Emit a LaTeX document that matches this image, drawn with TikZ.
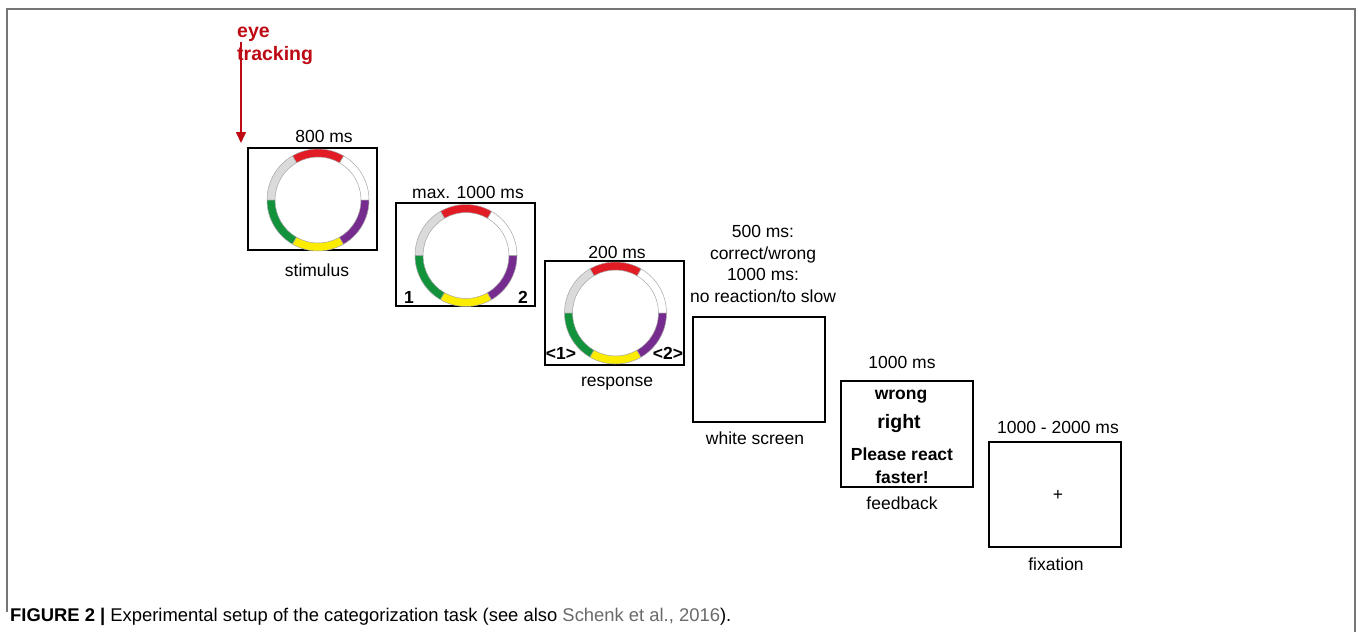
\documentclass[tikz,border=0pt]{standalone}
\usepackage{fontspec}
\setmainfont{Liberation Sans}
\usepackage{xcolor}
\usetikzlibrary{arrows.meta}

\definecolor{ringred}{RGB}{226,28,36}
\definecolor{ringgreen}{RGB}{18,146,58}
\definecolor{ringyellow}{RGB}{252,236,0}
\definecolor{ringpurple}{RGB}{118,44,142}
\definecolor{ringgray}{RGB}{218,218,218}
\definecolor{etred}{RGB}{190,10,20}
\definecolor{framegray}{RGB}{118,118,118}
\definecolor{citegray}{RGB}{105,105,105}

\begin{document}
\begin{tikzpicture}[
  x=1pt, y=-1pt,
  screen/.style 2 args={draw, line width=1.3pt, minimum width=#1, minimum height=#2, inner sep=0pt},
  lbl/.style={font=\fontsize{17.5}{21.7}\selectfont, align=center, inner sep=0pt},
  bold/.style={font=\fontsize{17.5}{23}\selectfont\bfseries, align=center, inner sep=0pt},
  ring/.pic={
    \foreach \a/\c in {0/white,60/ringred,120/ringgray,180/ringgreen,240/ringyellow,300/ringpurple}
      \filldraw[fill=\c, draw=gray!70, line width=0.5pt]
        (\a:51pt) arc[start angle=\a, delta angle=60, radius=51pt]
        -- ({\a+60}:43pt) arc[start angle=\a+60, delta angle=-60, radius=43pt] -- cycle;
  }
]
  \useasboundingbox (0,0) rectangle (1358,632);

  % Frame
  \draw[framegray, line width=2pt] (7,612) -- (7,8.5) -- (1355,8.5) -- (1355,632);

  % Screens
  \node[screen={129pt}{102pt}] (stim) at (312.5,199) {};
  \node[screen={139pt}{103pt}] (choice) at (465.5,254.5) {};
  \node[screen={139pt}{104pt}] (resp) at (614.5,313) {};
  \node[screen={132pt}{105pt}] (blank) at (759,369.5) {};
  \node[screen={132pt}{106pt}] (fb) at (907,434) {};
  \node[screen={132pt}{105pt}] (fix) at (1055,494.5) {};

  % Rings
  \pic at (318,200) {ring};
  \pic at (466,255.5) {ring};
  \pic at (615.5,313) {ring};

  % Durations
  \node[lbl] (t1) at (324,136) {800 ms};
  \node[lbl] (t2) at (468,192) {max. 1000 ms};
  \node[lbl] (t3) at (617,252) {200 ms};
  \node[lbl] (t4) at (763,264) {500 ms:\\correct/wrong\\1000 ms:\\no reaction/to slow};
  \node[lbl] (t5) at (902,362) {1000 ms};
  \node[lbl] (t6) at (1058,427) {1000 - 2000 ms};

  % Screen names
  \node[lbl] (n1) at (317,270) {stimulus};
  \node[lbl] (n3) at (617,384) {response};
  \node[lbl] (n4) at (755,438) {white screen};
  \node[lbl] (n5) at (902,503) {feedback};
  \node[lbl] (n6) at (1056,564) {fixation};

  % Screen contents
  \node[bold] (k1) at (409,297) {1};
  \node[bold] (k2) at (523,297) {2};
  \node[bold] (r1) at (561,353) {<1>};
  \node[bold] (r2) at (668,353) {<2>};
  \node[bold] (wrong) at (901,397) {wrong};
  \node[bold, font=\fontsize{19.5}{23}\selectfont\bfseries] (right) at (899,423) {right};
  \node[bold] (faster) at (902,465.5) {Please react\\faster!};
  \node[lbl] (cross) at (1058,495) {+};

  % Eye tracking
  \node[font=\fontsize{19.5}{23}\selectfont\bfseries, text=etred, align=left, inner sep=0pt, anchor=north west]
    (eye) at (237,27) {eye\\tracking};
  \coordinate (etstart) at (241,42);
  \coordinate (etend) at (241,143);
  \draw[etred, line width=1.6pt, -{Triangle[width=10pt,length=11pt]}] (etstart) -- (etend);

  % Caption
  \node[anchor=west, inner sep=0pt, font=\fontsize{18.4}{22}\selectfont] (cap) at (10,617)
    {\textbf{FIGURE 2 |} Experimental setup of the categorization task (see also \textcolor{citegray}{Schenk et al., 2016}).};
\end{tikzpicture}
\end{document}
